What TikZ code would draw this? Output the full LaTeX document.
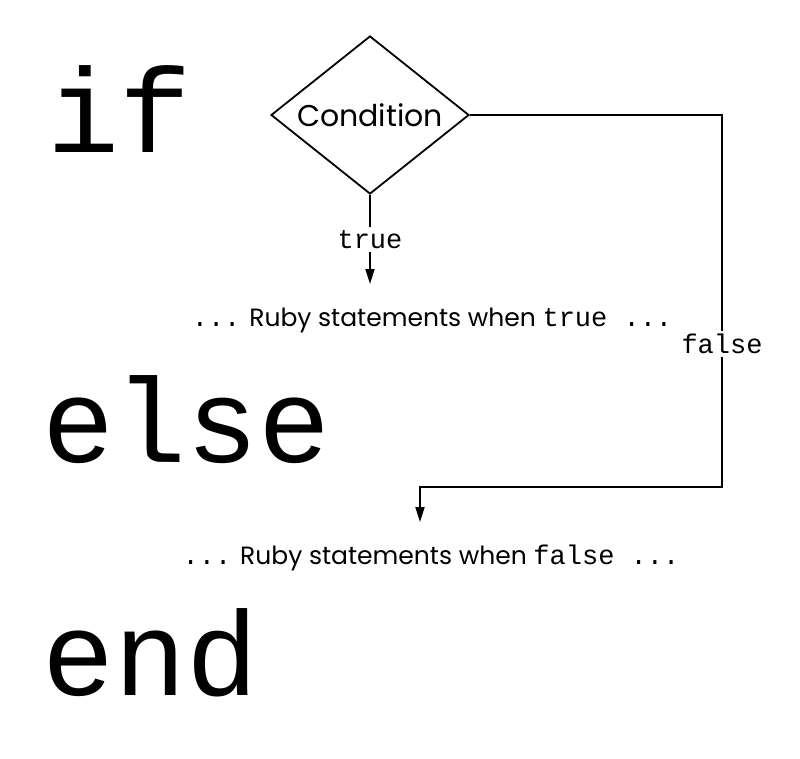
\documentclass[tikz,border=0pt]{standalone}
\usepackage{fontspec}
\setmainfont{Poppins}
\setmonofont{Liberation Mono}
\usetikzlibrary{shapes.geometric,arrows.meta}

\newcommand{\code}[1]{{\fontsize{27}{27}\selectfont\ttfamily #1}}

\begin{document}
\begin{tikzpicture}[x=1pt, y=-1pt, line width=1.8pt,
	keyword/.style={anchor=base west, inner sep=0pt, font=\fontsize{120}{120}\selectfont\ttfamily},
	stmt/.style={anchor=base, inner sep=0pt, font=\fontsize{25}{25}\selectfont},
	lbl/.style={fill=white, inner sep=3pt, font=\fontsize{27}{27}\selectfont\ttfamily},
	arr/.style={-{Triangle[length=15pt, width=9pt]}}]
	\useasboundingbox (0,0) rectangle (800,758);
	
	\node[keyword] (if) at (47,152){if};
	\node[keyword] (else) at (42,462){else};
	\node[keyword] (end) at (42,695){end};
	
	\node[draw, diamond, aspect=1.25, inner sep=0pt, minimum width=198pt, minimum height=158pt, font=\fontsize{30}{30}\selectfont] (cond) at (370,115){Condition};
	
	\node[stmt] (truestmt) at (432,326){\code{...} Ruby statements when \code{true ...}};
	\node[stmt] (falsestmt) at (431,564){\code{...} Ruby statements when \code{false ...}};
	
	\coordinate (truetip) at (370,284);
	\coordinate (elbow) at (722,487);
	\coordinate (falsetip) at (420,522);
	
	\draw[arr] (cond.south) -- node[lbl]{true} (truetip);
	\draw[arr] (cond.east) -| node[lbl, pos=0.808]{false} (elbow) -| (falsetip);
\end{tikzpicture}
\end{document}
